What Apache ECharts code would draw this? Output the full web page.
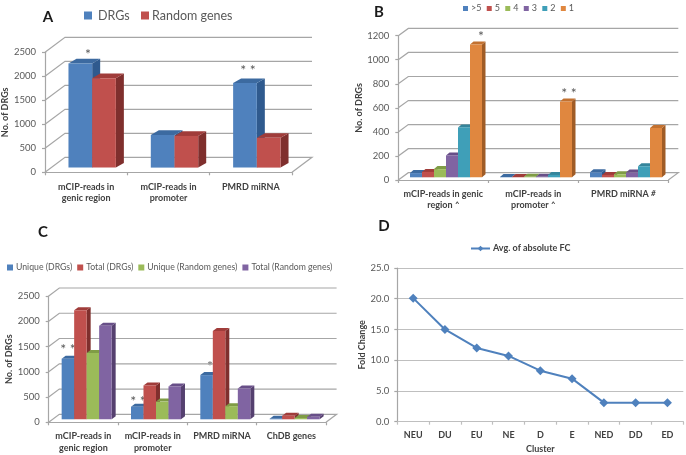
<!DOCTYPE html>
<html><head><meta charset="utf-8">
<style>html,body{margin:0;padding:0;background:#fff}#c{width:686px;height:455px}</style>
<script src="https://cdn.jsdelivr.net/npm/echarts@6/dist/echarts.min.js"></script>
</head><body><div id="c"></div>
<script>
// ---- data ----
const catsA = ['mCIP-reads in\ngenic region','mCIP-reads in\npromoter','PMRD miRNA'];
const drgsA = [2170,680,1760];
const randomA = [1860,660,620];

const catsB = ['mCIP-reads in genic\nregion {s|^}','mCIP-reads in\npromoter {s|^}','PMRD miRNA {s|#}'];
const gt5B = [35,3,42];
const five = [45,3,20];
const four = [68,5,25];
const three = [182,5,40];
const two = [415,20,92];
const one = [1105,630,410];

const catsC = ['mCIP-reads in\ngenic region','mCIP-reads in\npromoter','PMRD miRNA','ChDB genes'];
const uniqueDrgs = [1200,250,875,10];
const totalDrgs = [2160,670,1750,70];
const uniqueRandom = [1310,350,260,25];
const totalRandom = [1850,650,610,50];

const catsD = ['NEU','DU','EU','NE','D','E','NED','DD','ED'];
const avgFC = [20.1,15.0,12.0,10.7,8.3,7.0,3.1,3.1,3.1];

const ticks2500 = [0,500,1000,1500,2000,2500];
const ticks1200 = [0,200,400,600,800,1000,1200];

// ---- styling ----
const FONT = 'Lato';
const PAL = {
  blue:{f:'#4f81bd',t:'#3c6aa0',s:'#2f5a8e'},
  red:{f:'#c0504d',t:'#a03c3a',s:'#7f2f2d'},
  green:{f:'#9bbb59',t:'#7f9c45',s:'#6a8438'},
  purple:{f:'#8064a2',t:'#684f88',s:'#55406f'},
  teal:{f:'#3f9fb8',t:'#35859b',s:'#2c6f82'},
  orange:{f:'#e0873f',t:'#c27130',s:'#a05c26'}
};
const GEO = {
  A:{wallX:20,wallY:15,off:6,lift:4.7,bw:23.7,dx:8,dy:4.7},
  B:{wallX:10,wallY:7.3,off:2.7,lift:2.7,bw:12,dx:3.5,dy:3},
  C:{wallX:10.6,wallY:8,off:3.3,lift:3,bw:12.5,dx:4,dy:3}
};
const GRID_COLOR = '#a6a6a6';

function wallSeries(idx, ticks, g){
  return {type:'custom',xAxisIndex:idx,yAxisIndex:idx,silent:true,z:1,clip:false,
    data:ticks.map(v=>[v]),
    renderItem(params,api){
      const v = api.value(0);
      const cs = params.coordSys;
      const y = api.coord([0,v])[1];
      const x0 = cs.x, x1 = cs.x+cs.width;
      const pts = [[x0,y],[x0+g.wallX,y-g.wallY],[x1+g.wallX,y-g.wallY]];
      if(v===0) pts.push([x1,y]);
      return {type:'polyline',shape:{points:pts},style:{stroke:GRID_COLOR,lineWidth:1.2,fill:null}};
    }};
}
function barSeries(idx,name,pal,vals,j,n,g){
  return {type:'custom',name,xAxisIndex:idx,yAxisIndex:idx,z:2+j,clip:false,silent:true,
    itemStyle:{color:pal.f},
    data:vals.map((v,i)=>[i,v]),
    encode:{x:0,y:1},
    renderItem(params,api){
      const c = api.value(0), v = api.value(1);
      const top = api.coord([c,v]), base = api.coord([c,0]);
      const x = top[0]+g.off+(j-n/2)*g.bw, w = g.bw;
      const yT = top[1]-g.lift, yB = base[1]-g.lift;
      return {type:'group',children:[
        {type:'polygon',shape:{points:[[x+w,yT],[x+w+g.dx,yT-g.dy],[x+w+g.dx,yB-g.dy],[x+w,yB]]},style:{fill:pal.s}},
        {type:'polygon',shape:{points:[[x,yT],[x+g.dx,yT-g.dy],[x+w+g.dx,yT-g.dy],[x+w,yT]]},style:{fill:pal.t}},
        {type:'rect',shape:{x,y:yT,width:w,height:yB-yT},style:{fill:pal.f}}
      ]};
    }};
}
function cat(idx,data,margin,lh,fs){
  return {type:'category',gridIndex:idx,data,boundaryGap:true,
    axisLine:{show:true,lineStyle:{color:GRID_COLOR,width:1.2}},
    axisTick:{show:true,length:3,lineStyle:{color:GRID_COLOR,width:1.2}},
    splitLine:{show:false},
    axisLabel:{interval:0,margin,fontFamily:FONT,fontWeight:'bold',fontSize:fs||9,color:'#404040',lineHeight:lh,
      rich:{s:{fontFamily:FONT,fontStyle:'italic',fontSize:8,color:'#404040',verticalAlign:'top',padding:[0,0,5,0]}}}};
}
function val(idx,max,interval,nameText,nameGap,margin,split){
  return {type:'value',gridIndex:idx,min:0,max,interval,
    name:nameText,nameLocation:'middle',nameGap,nameRotate:90,
    nameTextStyle:{fontFamily:FONT,fontWeight:'bold',fontSize:9,color:'#404040'},
    axisLine:{show:true,lineStyle:{color:GRID_COLOR,width:1.2}},
    axisTick:{show:true,length:3,lineStyle:{color:GRID_COLOR,width:1.2}},
    splitLine:{show:!!split,lineStyle:{color:'#bfbfbf',width:1.2}},
    axisLabel:{margin,fontFamily:FONT,fontSize:9.5,color:'#595959',formatter:split?(v=>v.toFixed(1)):(v=>String(v))}};
}
function star(text,x,y){
  return {type:'text',x,y,silent:true,style:{text,fontFamily:FONT,fontSize:14,fill:'#595959',align:'center',verticalAlign:'middle'}};
}
function letter(text,x,y){
  return {type:'text',x,y,silent:true,style:{text,fontFamily:FONT,fontWeight:'bold',fontSize:15,fill:'#1a1a1a',align:'center',verticalAlign:'middle'}};
}

const namesB = ['>5','5','4','3','2','1'];
const namesC = ['Unique (DRGs)','Total (DRGs)','Unique (Random genes)','Total (Random genes)'];
const G = {outerBoundsMode:'none'};

const option = {
  animation:false,
  backgroundColor:'#fff',
  grid:[
    Object.assign({left:45,top:52.3,width:247,height:120},G),
    Object.assign({left:398.3,top:35.7,width:270,height:144.3},G),
    Object.assign({left:48.7,top:296,width:277.3,height:126.3},G),
    Object.assign({left:397.3,top:268,width:286,height:153.7},G)
  ],
  xAxis:[
    cat(0,catsA,9,11.5),
    cat(1,catsB,9,11),
    cat(2,catsC,8,12),
    Object.assign(cat(3,catsD,8,11),{name:'Cluster',nameLocation:'middle',nameGap:23,
      nameTextStyle:{fontFamily:FONT,fontWeight:'bold',fontSize:9,color:'#404040'},
      axisLine:{show:true,lineStyle:{color:'#bfbfbf',width:1.2}},
      axisTick:{show:true,length:3,lineStyle:{color:'#bfbfbf',width:1.2}}})
  ],
  yAxis:[
    val(0,2500,500,'No. of DRGs',33,9),
    val(1,1200,200,'No. of DRGs',35,9),
    val(2,2500,500,'No. of DRGs',32,9),
    val(3,25,5,'Fold Change',31,8,true)
  ],
  legend:[
    {left:84,top:9,padding:0,icon:'rect',itemWidth:8,itemHeight:8,data:['DRGs'],
      textStyle:{fontFamily:FONT,fontSize:12.5,color:'#595959',padding:[0,0,0,1]}},
    {left:141,top:9,padding:0,icon:'rect',itemWidth:8,itemHeight:8,data:['Random genes'],
      textStyle:{fontFamily:FONT,fontSize:12.5,color:'#595959',padding:[0,0,0,-2]}},
    {left:463,top:4,padding:0,icon:'rect',itemWidth:5,itemHeight:5,itemGap:5.3,data:namesB,
      textStyle:{fontFamily:FONT,fontSize:9,color:'#595959',padding:[0,0,0,-2]}},
    {left:7,top:263,padding:0,icon:'rect',itemWidth:6,itemHeight:6,itemGap:5,data:namesC,
      textStyle:{fontFamily:FONT,fontSize:8.7,color:'#595959',padding:[0,0,0,-2]}},
    {left:470,top:244,padding:0,itemWidth:19,itemHeight:7,data:['Avg. of absolute FC'],
      textStyle:{fontFamily:FONT,fontWeight:'bold',fontSize:9,color:'#404040',padding:[0,0,0,-2]}}
  ],
  graphic:{elements:[
    letter('A',48,17),letter('B',379,12),letter('C',43,232),letter('D',384,226),
    star('*',88,54),star('* *',248,70),
    star('*',481,36),star('* *',569,93),
    star('* *',68,349),star('* *',138,401),star('*',210,366)
  ]},
  series:[
    wallSeries(0,ticks2500,GEO.A),
    barSeries(0,'DRGs',PAL.blue,drgsA,0,2,GEO.A),
    barSeries(0,'Random genes',PAL.red,randomA,1,2,GEO.A),

    wallSeries(1,ticks1200,GEO.B),
    barSeries(1,'>5',PAL.blue,gt5B,0,6,GEO.B),
    barSeries(1,'5',PAL.red,five,1,6,GEO.B),
    barSeries(1,'4',PAL.green,four,2,6,GEO.B),
    barSeries(1,'3',PAL.purple,three,3,6,GEO.B),
    barSeries(1,'2',PAL.teal,two,4,6,GEO.B),
    barSeries(1,'1',PAL.orange,one,5,6,GEO.B),

    wallSeries(2,ticks2500,GEO.C),
    barSeries(2,namesC[0],PAL.blue,uniqueDrgs,0,4,GEO.C),
    barSeries(2,namesC[1],PAL.red,totalDrgs,1,4,GEO.C),
    barSeries(2,namesC[2],PAL.green,uniqueRandom,2,4,GEO.C),
    barSeries(2,namesC[3],PAL.purple,totalRandom,3,4,GEO.C),

    {type:'line',name:'Avg. of absolute FC',xAxisIndex:3,yAxisIndex:3,data:avgFC,
      symbol:'diamond',symbolSize:9,silent:true,
      lineStyle:{color:'#4f81bd',width:2},itemStyle:{color:'#4f81bd'}}
  ]
};
echarts.init(document.getElementById('c'),null,{renderer:'canvas'}).setOption(option);
</script></body></html>
